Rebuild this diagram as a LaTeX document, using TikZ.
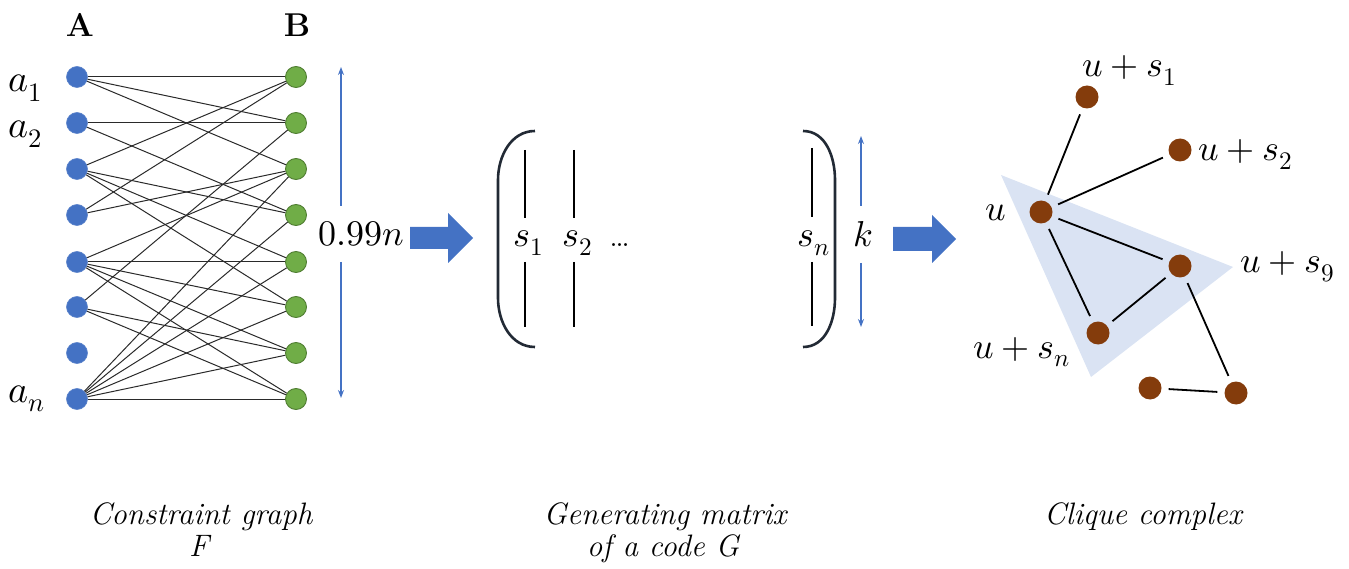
\documentclass[tikz,border=0pt]{standalone}
\usepackage{fontspec}
\usepackage{unicode-math}
\setmathfont{Latin Modern Math}
\usetikzlibrary{arrows.meta}
\definecolor{nblue}{HTML}{4472C4}
\definecolor{nblueb}{HTML}{5A82CA}
\definecolor{ngreen}{HTML}{70AD47}
\definecolor{ngreenb}{HTML}{507E32}
\definecolor{nbrown}{HTML}{843C0C}
\definecolor{trifill}{HTML}{DAE3F3}
\definecolor{parcol}{HTML}{222A35}
\definecolor{edgecol}{HTML}{2A2A2A}
\begin{document}
\begin{tikzpicture}[x=1pt,y=-1pt,
  anode/.style={circle,fill=nblue,draw=nblueb,line width=0.6pt,minimum size=21pt,inner sep=0pt},
  bnode/.style={circle,fill=ngreen,draw=ngreenb,line width=0.9pt,minimum size=21pt,inner sep=0pt},
  cnode/.style={circle,fill=nbrown,minimum size=23pt,inner sep=0pt},
  gedge/.style={draw=edgecol,line width=1pt},
  cedge/.style={draw=black,line width=1.8pt,shorten <=7pt,shorten >=7pt},
  mlab/.style={font=\fontsize{36}{40}\selectfont,inner sep=0pt},
  alab/.style={font=\fontsize{38}{42}\selectfont,inner sep=0pt,anchor=base west},
  head/.style={font=\fontsize{33}{36}\selectfont\bfseries,inner sep=0pt},
  capt/.style={font=\fontsize{31}{34}\selectfont\itshape,inner sep=0pt,anchor=base},
  dimarrow/.style={draw=nblue,line width=1.3pt,-{Stealth[length=8pt,width=6pt]}},
  colline/.style={draw=black,line width=1.2pt},
  paren/.style={draw=parcol,line width=2.6pt},
  blockarrow/.style={fill=nblue}]
\useasboundingbox (0,0) rectangle (1349,569);

% ---------- constraint graph ----------
\node[head] (hA) at (80,25) {A};
\node[head] (hB) at (297,25) {B};

\foreach \i/\y in {1/77,2/123,3/169,4/215,5/262,6/307,7/353,8/399}{
  \node[anode] (a\i) at (77,\y) {};
  \node[bnode] (b\i) at (296,\y) {};
}
\node[alab] (la1) at (8,92) {$a_1$};
\node[alab] (la2) at (8,138) {$a_2$};
\node[alab] (lan) at (8,402) {$a_n$};

\foreach \s/\t in {1/1,1/2,1/3, 2/2,2/4, 3/1,3/4,3/5,3/6, 4/1,4/3,
  5/3,5/5,5/6,5/7,5/8, 6/2,6/7,6/8, 8/3,8/4,8/5,8/6,8/7,8/8}{
  \draw[gedge] (a\s) -- (b\t);
}

% dimension arrow 0.99n
\node[mlab,anchor=base west] (l099) at (318,246) {$0.99n$};
\coordinate (dtopf) at (341,206);
\coordinate (dtop) at (341,67);
\coordinate (dbotf) at (341,262);
\coordinate (dbot) at (341,398);
\draw[dimarrow] (dtopf) -- (dtop);
\draw[dimarrow] (dbotf) -- (dbot);

% block arrow 1
\fill[blockarrow] (410,227) -- (448,227) -- (448,213) -- (473,238) -- (448,263) -- (448,249) -- (410,249) -- cycle;

% ---------- generating matrix ----------
\draw[paren] (535,131) to[out=180,in=90] (498,180) -- (498,298) to[out=-90,in=180] (535,347);
\draw[paren] (803,131) to[out=0,in=90] (835,180) -- (835,298) to[out=-90,in=0] (803,347);

\node[mlab,anchor=base west] (s1) at (513,247) {$s_1$};
\node[mlab,anchor=base west] (s2) at (562,247) {$s_2$};
\node[mlab,anchor=base west] (sd) at (609,247) {\ldots};
\node[mlab,anchor=base west] (sn) at (797,247) {$s_n$};
\node[mlab,anchor=base west] (kk) at (853,247) {$k$};

\coordinate (c1t) at (525,150); \coordinate (c1a) at (525,218);
\coordinate (c1b) at (525,262); \coordinate (c1e) at (525,327);
\coordinate (c2t) at (574,150); \coordinate (c2a) at (574,218);
\coordinate (c2b) at (574,262); \coordinate (c2e) at (574,327);
\coordinate (cnt) at (812,148); \coordinate (cna) at (812,217);
\coordinate (cnb) at (812,262); \coordinate (cne) at (812,326);
\draw[colline] (c1t) -- (c1a); \draw[colline] (c1b) -- (c1e);
\draw[colline] (c2t) -- (c2a); \draw[colline] (c2b) -- (c2e);
\draw[colline] (cnt) -- (cna); \draw[colline] (cnb) -- (cne);

\coordinate (ktf) at (861,206);
\coordinate (kt) at (861,136);
\coordinate (kbf) at (861,263);
\coordinate (kb) at (861,327);
\draw[dimarrow,line width=1.1pt] (ktf) -- (kt);
\draw[dimarrow,line width=1.1pt] (kbf) -- (kb);

% block arrow 2
\fill[blockarrow] (893,227) -- (932,227) -- (932,215) -- (956,239) -- (932,263) -- (932,251) -- (893,251) -- cycle;

% ---------- clique complex ----------
\fill[trifill] (1001,175) -- (1233,267) -- (1091,377) -- cycle;

\node[cnode] (v1) at (1087,97) {};
\node[cnode] (v2) at (1180,150) {};
\node[cnode] (vu) at (1041,212) {};
\node[cnode] (v9) at (1180,266) {};
\node[cnode] (vn) at (1098,333) {};
\node[cnode] (vl) at (1150,388) {};
\node[cnode] (vr) at (1236,393) {};

\draw[cedge] (vu) -- (v1);
\draw[cedge] (vu) -- (v2);
\draw[cedge] (vu) -- (v9);
\draw[cedge] (vu) -- (vn);
\draw[cedge] (v9) -- (vn);
\draw[cedge] (v9) -- (vr);
\draw[cedge] (vl) -- (vr);

\node[mlab,anchor=base west] (lv1) at (1082,77) {$u+s_1$};
\node[mlab,anchor=base west] (lv2) at (1198,161) {$u+s_2$};
\node[mlab,anchor=base west] (lvu) at (985,221) {$u$};
\node[mlab,anchor=base west] (lv9) at (1240,273) {$u+s_9$};
\node[mlab,anchor=base west] (lvn) at (973,358) {$u+s_n$};

% ---------- captions ----------
\node[capt] (cap1a) at (201,524) {Constraint graph};
\node[capt] (cap1b) at (199,556) {F};
\node[capt] (cap2a) at (665,524) {Generating matrix};
\node[capt] (cap2b) at (663,556) {of a code G};
\node[capt] (cap3a) at (1143,524) {Clique complex};
\end{tikzpicture}
\end{document}
